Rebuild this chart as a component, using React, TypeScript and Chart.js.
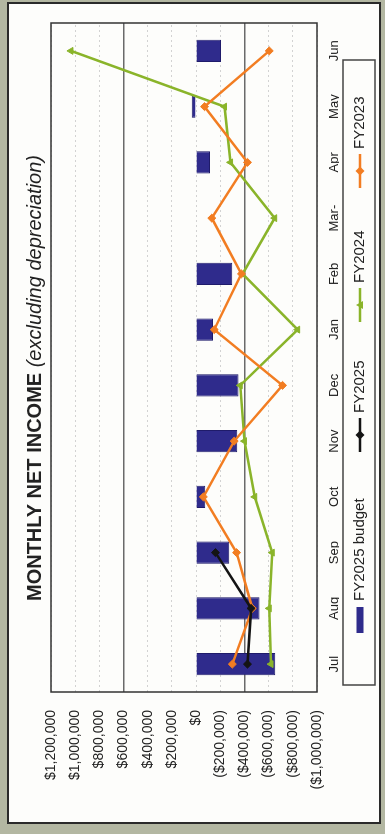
import React, { useEffect, useRef } from 'react';
import { Chart, registerables } from 'chart.js';

Chart.register(...registerables);

// Fiscal-year months
const months = ['Jul', 'Aug', 'Sep', 'Oct', 'Nov', 'Dec', 'Jan', 'Feb', 'Mar-', 'Apr', 'May', 'Jun'];

// Monthly net income (excluding depreciation), dollars
const budgetFY2025 = [-655000, -525000, -275000, -75000, -340000, -350000, -140000, -300000, 0, -115000, 35000, -205000];
const actualFY2025 = [-425000, -455000, -160000, null, null, null, null, null, null, null, null, null];
const actualFY2024 = [-620000, -605000, -630000, -485000, -400000, -365000, -840000, -385000, -650000, -285000, -235000, 1035000];
const actualFY2023 = [-300000, -465000, -335000, -60000, -315000, -715000, -150000, -375000, -130000, -425000, -70000, -605000];

// Value axis range
const axisMin = -1000000;
const axisMax = 1200000;
const axisStep = 200000;
const heavyGridValues = [600000, -400000];

const FONT = "'Liberation Sans', Arial, sans-serif";
const TEXT = '#222222';
const BAR = '#2f2b8c';
const GREEN = '#8ab42a';
const ORANGE = '#f27d22';
const BLACK = '#141414';

const W = 834;
const H = 385;

function money(v: number): string {
  if (v === 0) return '$0';
  const s = '$' + Math.abs(v).toLocaleString('en-US');
  return v < 0 ? '(' + s + ')' : s;
}

const framePlugin = {
  id: 'frame',
  beforeDraw(chart: any) {
    const { ctx } = chart;
    ctx.save();
    ctx.fillStyle = '#b3b7a2';
    ctx.fillRect(0, 0, W, H);
    ctx.fillStyle = '#fdfdfb';
    ctx.fillRect(11, 8, 820, 372);
    ctx.strokeStyle = '#2a2a2a';
    ctx.lineWidth = 2;
    ctx.strokeRect(11, 8, 820, 372);
    ctx.restore();
  },
  beforeDatasetsDraw(chart: any) {
    const { ctx, chartArea: a } = chart;
    ctx.save();
    ctx.strokeStyle = '#333333';
    ctx.lineWidth = 1.5;
    ctx.strokeRect(a.left, a.top, a.right - a.left, a.bottom - a.top);
    ctx.restore();
  },
  afterDraw(chart: any) {
    const { ctx, chartArea: a } = chart;
    ctx.save();

    // Title: bold main text followed by italic note
    const main = 'MONTHLY NET INCOME';
    const note = ' (excluding depreciation)';
    ctx.textBaseline = 'alphabetic';
    ctx.fillStyle = TEXT;
    ctx.font = `bold 20px ${FONT}`;
    const wMain = ctx.measureText(main).width;
    ctx.font = `italic 20px ${FONT}`;
    const wNote = ctx.measureText(note).width;
    const cx = 456;
    let x = cx - (wMain + wNote) / 2;
    ctx.font = `bold 20px ${FONT}`;
    ctx.fillText(main, x, 41);
    ctx.font = `italic 20px ${FONT}`;
    ctx.fillText(note, x + wMain, 41);

    // Legend box
    const boxTop = a.bottom + 26;
    const boxH = 32;
    const boxLeft = 149;
    const boxW = 625;
    ctx.strokeStyle = '#444444';
    ctx.lineWidth = 1.5;
    ctx.strokeRect(boxLeft, boxTop, boxW, boxH);
    const cy = boxTop + boxH / 2 + 1;

    ctx.font = `15px ${FONT}`;
    ctx.textBaseline = 'middle';
    ctx.fillStyle = TEXT;

    // bar entry
    ctx.fillStyle = BAR;
    ctx.fillRect(201, cy - 3.5, 26, 7);
    ctx.fillStyle = TEXT;
    ctx.fillText('FY2025 budget', 233, cy);

    const lineEntry = (x0: number, color: string, label: string, style: string) => {
      ctx.strokeStyle = color;
      ctx.lineWidth = 2.5;
      ctx.beginPath();
      ctx.moveTo(x0, cy);
      ctx.lineTo(x0 + 34, cy);
      ctx.stroke();
      ctx.fillStyle = color;
      const mx = x0 + 17;
      ctx.beginPath();
      if (style === 'triangle') {
        ctx.moveTo(mx, cy - 4);
        ctx.lineTo(mx + 4, cy + 3);
        ctx.lineTo(mx - 4, cy + 3);
      } else {
        ctx.moveTo(mx, cy - 4.5);
        ctx.lineTo(mx + 4.5, cy);
        ctx.lineTo(mx, cy + 4.5);
        ctx.lineTo(mx - 4.5, cy);
      }
      ctx.closePath();
      ctx.fill();
      ctx.fillStyle = TEXT;
      ctx.fillText(label, x0 + 39, cy);
    };
    lineEntry(382, BLACK, 'FY2025', 'diamond');
    lineEntry(512, GREEN, 'FY2024', 'triangle');
    lineEntry(646, ORANGE, 'FY2023', 'diamond');

    ctx.restore();
  },
};

export default function App() {
  const canvasRef = useRef<HTMLCanvasElement | null>(null);

  useEffect(() => {
    const canvas = canvasRef.current;
    if (!canvas) return;
    const chart = new Chart(canvas, {
      type: 'bar',
      data: {
        labels: months,
        datasets: [
          {
            type: 'line',
            label: 'FY2025',
            data: actualFY2025,
            borderColor: BLACK,
            backgroundColor: BLACK,
            borderWidth: 2.5,
            pointStyle: 'rectRot',
            pointRadius: 4,
            pointBorderWidth: 1,
            spanGaps: false,
            order: 1,
          } as any,
          {
            type: 'line',
            label: 'FY2023',
            data: actualFY2023,
            borderColor: ORANGE,
            backgroundColor: ORANGE,
            borderWidth: 2.5,
            pointStyle: 'rectRot',
            pointRadius: 4,
            pointBorderWidth: 1,
            order: 2,
          } as any,
          {
            type: 'line',
            label: 'FY2024',
            data: actualFY2024,
            borderColor: GREEN,
            backgroundColor: GREEN,
            borderWidth: 2.5,
            pointStyle: 'triangle',
            pointRadius: 4,
            pointBorderWidth: 1,
            order: 3,
          } as any,
          {
            type: 'bar',
            label: 'FY2025 budget',
            data: budgetFY2025,
            backgroundColor: BAR,
            borderColor: '#1f1b6a',
            borderWidth: 1,
            barPercentage: 0.4,
            categoryPercentage: 1,
            order: 10,
          } as any,
        ],
      },
      options: {
        animation: false,
        responsive: false,
        devicePixelRatio: 1,
        layout: { padding: { top: 51, right: 23, bottom: 46, left: 0 } },
        plugins: {
          legend: { display: false },
          tooltip: { enabled: false },
          title: { display: false },
        },
        scales: {
          x: {
            grid: { display: false, drawTicks: false },
            border: { display: false },
            ticks: {
              font: { size: 13, family: FONT },
              color: TEXT,
              padding: 10,
              maxRotation: 0,
              autoSkip: false,
            },
            afterFit: (s: any) => {
              s.height = 22;
            },
          },
          y: {
            min: axisMin,
            max: axisMax,
            ticks: {
              stepSize: axisStep,
              callback: (v: any) => money(Number(v)),
              font: { size: 14, family: FONT },
              color: TEXT,
              padding: 18,
            },
            grid: {
              drawTicks: false,
              color: (c: any) => (heavyGridValues.includes(c.tick?.value) ? '#6a6a6a' : '#d2d2d2'),
              lineWidth: (c: any) => (heavyGridValues.includes(c.tick?.value) ? 1.5 : 1),
            },
            border: {
              display: false,
              dash: (c: any) => (heavyGridValues.includes(c.tick?.value) ? [] : [2, 3]),
            },
            afterFit: (s: any) => {
              s.width = 142;
            },
          },
        },
      } as any,
      plugins: [framePlugin],
    });
    return () => chart.destroy();
  }, []);

  return (
    <div
      style={{
        position: 'fixed',
        left: 0,
        top: 0,
        width: W,
        height: H,
        transformOrigin: '0 0',
        transform: `translateY(${W}px) rotate(-90deg)`,
      }}
    >
      <canvas ref={canvasRef} width={W} height={H} style={{ display: 'block', width: W, height: H }} />
    </div>
  );
}
